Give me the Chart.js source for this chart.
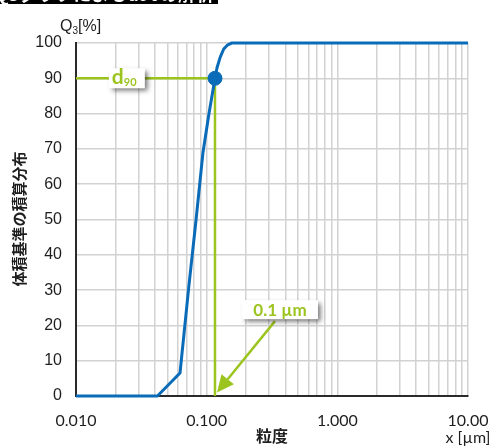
<!DOCTYPE html>
<html>
<head>
<meta charset="utf-8">
<script src="https://cdn.jsdelivr.net/npm/chart.js@4/dist/chart.umd.min.js"></script>
<style>
  html, body { margin: 0; padding: 0; background: #fff; }
  canvas { display: block; }
</style>
</head>
<body>
<canvas id="c" width="493" height="447"></canvas>
<script>
// Cumulative volume distribution Q3 versus particle size x (µm)
const particleSizes = [0.01, 0.042, 0.0625, 0.073, 0.083, 0.0937, 0.1042, 0.1158, 0.12, 0.127, 0.135, 0.145, 0.156, 10];
const q3Values      = [0,    0,     6.5,    31,    50,    69,     80,     90,     93,   96,    98.3,  99.5,  100,   100];

// d90 read-out
const d90Size = 0.1158;
const d90Level = 90;

// Axis ticks
const xTickValues = [0.01, 0.1, 1, 10];
const xTickLabels = ['0.010', '0.100', '1.000', '10.00'];
const yTickValues = [0, 10, 20, 30, 40, 50, 60, 70, 80, 90, 100];

const BLUE = '#0a6cb8';
const GREEN = '#9cc41f';
const TEXT = '#1e1e1e';

function shadowBox(ctx, x, y, w, h) {
  ctx.save();
  ctx.shadowColor = 'rgba(0,0,0,0.55)';
  ctx.shadowBlur = 5;
  ctx.shadowOffsetX = 3;
  ctx.shadowOffsetY = 3;
  ctx.fillStyle = '#fff';
  ctx.fillRect(x, y, w, h);
  ctx.restore();
}

const annotations = {
  id: 'annotations',
  afterDraw(chart) {
    const ctx = chart.ctx;
    const xs = chart.scales.x, ys = chart.scales.y;
    ctx.save();

    // header bar (mostly outside the canvas)
    ctx.fillStyle = '#000';
    ctx.fillRect(0, 0, 218, 4);
    ctx.fillStyle = '#fff';
    ctx.font = 'bold 18px "Noto Sans CJK JP"';
    ctx.textAlign = 'right';
    ctx.textBaseline = 'alphabetic';
    ctx.fillText('Q3グラフによるd90の解析', 214, 1);

    // y-axis unit  Q3[%]
    ctx.fillStyle = TEXT;
    ctx.textAlign = 'left';
    ctx.font = '16px "Liberation Sans"';
    ctx.fillText('Q', 60, 31);
    const qW = ctx.measureText('Q').width;
    ctx.font = '10px "Liberation Sans"';
    ctx.fillText('3', 60 + qW, 34);
    const sW = ctx.measureText('3').width;
    ctx.font = '16px "Liberation Sans"';
    ctx.fillText('[%]', 60 + qW + sW, 31);

    // y-axis title (vertical)
    ctx.save();
    ctx.translate(19, 219);
    ctx.rotate(-Math.PI / 2);
    ctx.textAlign = 'center';
    ctx.textBaseline = 'middle';
    ctx.font = 'bold 15px "Noto Sans CJK JP"';
    ctx.fillText('体積基準の積算分布', 0, 0);
    ctx.restore();

    // x-axis title and unit
    ctx.textAlign = 'center';
    ctx.textBaseline = 'middle';
    ctx.font = 'bold 16px "Noto Sans CJK JP"';
    ctx.fillText('粒度', 272, 436);
    ctx.font = '16px "Lato"';
    ctx.fillText('x [µm]', 468, 438);

    // d90 label box on the horizontal read-out line
    const bx = xs.getPixelForValue(0.0245), by = ys.getPixelForValue(d90Level);
    shadowBox(ctx, bx - 18, by - 10, 36, 20);
    ctx.fillStyle = GREEN;
    ctx.textAlign = 'left';
    ctx.textBaseline = 'alphabetic';
    ctx.font = 'bold 21px "Lato"';
    ctx.fillText('d', bx - 15, by + 6);
    const dW = ctx.measureText('d').width;
    ctx.font = 'bold 11px "Lato"';
    ctx.fillText('90', bx - 15 + dW, by + 8);

    // size label box with arrow pointing to d90 on the x axis
    const lx = xs.getPixelForValue(0.364), ly = ys.getPixelForValue(24.6);
    const tipX = xs.getPixelForValue(d90Size) + 2, tipY = ys.getPixelForValue(1);
    const startX = lx - 5, startY = ly + 12;
    const ang = Math.atan2(tipY - startY, tipX - startX);
    const headLen = 17, headW = 8;
    const baseX = tipX - headLen * Math.cos(ang), baseY = tipY - headLen * Math.sin(ang);
    ctx.strokeStyle = GREEN;
    ctx.lineWidth = 2.5;
    ctx.beginPath();
    ctx.moveTo(startX, startY);
    ctx.lineTo(baseX, baseY);
    ctx.stroke();
    ctx.fillStyle = GREEN;
    ctx.beginPath();
    ctx.moveTo(tipX, tipY);
    ctx.lineTo(baseX + headW * Math.sin(ang), baseY - headW * Math.cos(ang));
    ctx.lineTo(baseX - headW * Math.sin(ang), baseY + headW * Math.cos(ang));
    ctx.closePath();
    ctx.fill();

    shadowBox(ctx, lx - 38, ly - 9, 76, 19);
    ctx.fillStyle = GREEN;
    ctx.textAlign = 'center';
    ctx.textBaseline = 'middle';
    ctx.font = 'bold 17px "Lato"';
    ctx.fillText(d90Size.toFixed(1) + ' µm', lx, ly + 1);

    ctx.restore();
  }
};

new Chart(document.getElementById('c'), {
  type: 'scatter',
  data: {
    datasets: [
      {
        label: 'd90',
        data: [{ x: d90Size, y: d90Level }],
        pointRadius: 7,
        pointBackgroundColor: BLUE,
        pointBorderColor: BLUE,
        showLine: false,
        clip: false
      },
      {
        label: 'Q3',
        data: particleSizes.map((s, i) => ({ x: s, y: q3Values[i] })),
        showLine: true,
        borderColor: BLUE,
        borderWidth: 3,
        borderJoinStyle: 'round',
        pointRadius: 0,
        tension: 0,
        clip: false
      },
      {
        label: 'read-out',
        data: [{ x: xTickValues[0], y: d90Level }, { x: d90Size, y: d90Level }, { x: d90Size, y: 0 }],
        showLine: true,
        borderColor: GREEN,
        borderWidth: 2.5,
        pointRadius: 0,
        tension: 0
      }
    ]
  },
  options: {
    responsive: false,
    animation: false,
    events: [],
    layout: { padding: { left: 0, top: 43, right: 25, bottom: 0 } },
    plugins: { legend: { display: false }, tooltip: { enabled: false } },
    scales: {
      x: {
        type: 'logarithmic',
        min: xTickValues[0],
        max: xTickValues[xTickValues.length - 1],
        afterBuildTicks(scale) {
          const t = [];
          for (let d = 0; d < xTickValues.length - 1; d++) {
            for (let k = 1; k <= 9; k++) t.push({ value: xTickValues[d] * k });
          }
          t.push({ value: xTickValues[xTickValues.length - 1] });
          scale.ticks = t;
        },
        afterFit(scale) {
          scale.height = 51;
          scale.paddingLeft = 0;
          scale.paddingRight = 0;
        },
        grid: { color: '#d2d2d2', lineWidth: 1.5, drawTicks: false },
        border: { display: true, color: '#2a2a2a', width: 2 },
        ticks: {
          autoSkip: false,
          maxRotation: 0,
          padding: 15,
          color: TEXT,
          font: { family: 'Lato', size: 16 },
          callback(v) {
            const i = xTickValues.findIndex(t => Math.abs(t - v) / t < 1e-6);
            return i >= 0 ? xTickLabels[i] : '';
          }
        }
      },
      y: {
        min: yTickValues[0],
        max: yTickValues[yTickValues.length - 1],
        afterBuildTicks(scale) { scale.ticks = yTickValues.map(v => ({ value: v })); },
        afterFit(scale) {
          scale.width = 76;
          scale.paddingTop = 0;
          scale.paddingBottom = 0;
        },
        grid: { color: '#d2d2d2', lineWidth: 1.5, drawTicks: false },
        border: { display: true, color: '#2a2a2a', width: 2 },
        ticks: {
          padding: 14,
          color: TEXT,
          font: { family: 'Liberation Sans', size: 16 }
        }
      }
    }
  },
  plugins: [annotations]
});
</script>
</body>
</html>
